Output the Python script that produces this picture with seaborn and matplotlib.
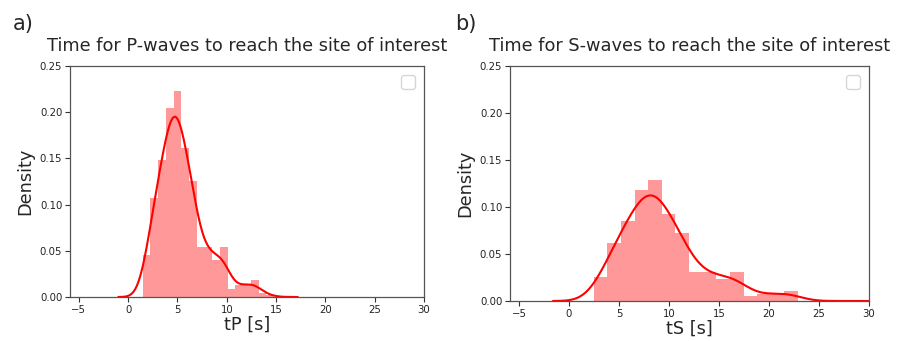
import numpy as np
import pandas as pd
import matplotlib
matplotlib.use("Agg")
import matplotlib.pyplot as plt
import seaborn as sns

# ---- data ----
p_edges = [1.46, 2.25, 3.03, 3.82, 4.60, 5.39, 6.17, 6.96, 7.74, 8.53, 9.31,
           10.10, 10.88, 11.67, 12.45, 13.24, 14.02, 14.81]
p_density = [0.0455, 0.1075, 0.148, 0.205, 0.223, 0.161, 0.125, 0.054, 0.054,
             0.040, 0.054, 0.009, 0.013, 0.013, 0.018, 0.004, 0.002]

s_edges = [2.47, 3.83, 5.19, 6.56, 7.92, 9.28, 10.64, 12.00, 13.37, 14.73,
           16.09, 17.45, 18.81, 20.18, 21.54, 22.90]
s_density = [0.0259, 0.062, 0.085, 0.118, 0.1287, 0.0926, 0.072, 0.031, 0.031,
             0.0236, 0.031, 0.0055, 0.0075, 0.0075, 0.0105]

titles = ["Time for P-waves to reach the site of interest",
          "Time for S-waves to reach the site of interest"]
xlabels = ["tP [s]", "tS [s]"]
panel_tags = ["a)", "b)"]
x_ticks = [-5, 0, 5, 10, 15, 20, 25, 30]
y_ticks = [0.00, 0.05, 0.10, 0.15, 0.20, 0.25]
kde_ranges = [(-1.0, 17.2), (-1.6, 30.0)]

sns.set_style("ticks")
plt.rcParams["font.family"] = ["DejaVu Sans"]

W, H = 902, 341
fig = plt.figure(figsize=(W / 100, H / 100), dpi=100)


def px_axes(x0, y0, x1, y1):
    return fig.add_axes([x0 / W, 1 - y1 / H, (x1 - x0) / W, (y1 - y0) / H])


axes = [px_axes(70, 66, 424, 297), px_axes(510, 66, 869, 301)]
datasets = [(p_edges, p_density, 0.74), (s_edges, s_density, 1.32)]
tag_pos = [(13, 30), (455, 30)]

for ax, (edges, dens, bw), kr, title, xl, tag, tp in zip(
        axes, datasets, kde_ranges, titles, xlabels, panel_tags, tag_pos):
    e = np.asarray(edges)
    centers = (e[:-1] + e[1:]) / 2
    df = pd.DataFrame({"t": centers, "density": dens})
    sns.histplot(data=df, x="t", weights="density", bins=list(edges),
                 stat="count", color="red", alpha=0.4, linewidth=0, ax=ax)
    w = np.asarray(dens)
    mu = np.sum(w * centers) / w.sum()
    sd = np.sqrt(np.sum(w * (centers - mu) ** 2) / w.sum())
    sns.kdeplot(data=df, x="t", weights="density", bw_method=bw / sd, cut=10,
                clip=kr, gridsize=400, color="red", linewidth=1.5, ax=ax,
                zorder=2)
    ax.set_xlim(-5.9, 30)
    ax.set_ylim(0, 0.25)
    ax.set_xticks(x_ticks)
    ax.set_yticks(y_ticks)
    ax.set_yticklabels([f"{v:.2f}" for v in y_ticks])
    ax.tick_params(labelsize=7.3, length=3.5, width=0.8, pad=2,
                   colors="#333333", labelcolor="#222222")
    for sp in ax.spines.values():
        sp.set_visible(True)
        sp.set_linewidth(0.9)
        sp.set_color("#555555")
        sp.set_zorder(3)
    ax.set_title(title, fontsize=12.8, pad=11)
    ax.set_xlabel(xl, fontsize=12.8, labelpad=1)
    ax.set_ylabel("Density", fontsize=12.8, labelpad=4)
    ax.legend(loc="upper right", fontsize=12.8)
    fig.text(tp[0] / W, 1 - tp[1] / H, tag, fontsize=15, ha="left", va="baseline")

fig.savefig("out.png", dpi=100)
